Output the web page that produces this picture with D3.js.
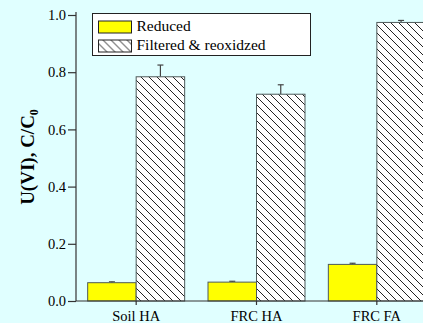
<!DOCTYPE html>
<html>
<head>
<meta charset="utf-8">
<script src="https://cdnjs.cloudflare.com/ajax/libs/d3/7.8.5/d3.min.js"></script>
<style>
  html, body { margin: 0; padding: 0; background: #e0ffff; }
  svg { display: block; }
</style>
</head>
<body>
<div id="chart"></div>
<script>
// data
var categories = ["Soil HA", "FRC HA", "FRC FA"];
var seriesNames = ["Reduced", "Filtered & reoxidzed"];
var reduced = [0.064, 0.066, 0.128];
var reducedErr = [0.003, 0.003, 0.004];
var reoxidized = [0.784, 0.723, 0.974];
var reoxidizedErr = [0.041, 0.033, 0.007];
var yTicks = [0.0, 0.2, 0.4, 0.6, 0.8, 1.0];

var serif = "'Liberation Serif', serif";
var width = 423, height = 323;
var margin = { top: 15, left: 76, bottom: 22 };
var plotBottom = height - margin.bottom;   // y of 0.0

var svg = d3.select("#chart").append("svg")
	.attr("width", width)
	.attr("height", height);

svg.append("rect")
	.attr("width", width).attr("height", height)
	.attr("fill", "#e0ffff");

// hatch pattern ( \\\ )
var defs = svg.append("defs");
var pat = defs.append("pattern")
	.attr("id", "hatch")
	.attr("patternUnits", "userSpaceOnUse")
	.attr("width", 8).attr("height", 8);
pat.append("rect").attr("width", 8).attr("height", 8).attr("fill", "#ffffff");
pat.append("path")
	.attr("d", "M-2,-2 L10,10 M-2,6 L2,10 M6,-2 L10,2")
	.attr("stroke", "#222").attr("stroke-width", 1);

// scales
var x = d3.scaleBand()
	.domain(categories)
	.range([margin.left, 437])
	.paddingInner(0.194)
	.paddingOuter(0.097);

var y = d3.scaleLinear()
	.domain([0, 1])
	.range([plotBottom, margin.top]);

var sub = d3.scaleBand()
	.domain(["reduced", "reox"])
	.range([0, x.bandwidth()]);

var rows = categories.map(function(c, i) {
	return { cat: c, reduced: reduced[i], reducedErr: reducedErr[i], reox: reoxidized[i], reoxErr: reoxidizedErr[i] };
});

var g = svg.append("g");

// error bars (drawn first, bars on top)
function errorBars(key, errKey) {
	var eb = g.selectAll("g.eb-" + key).data(rows).enter().append("g").attr("class", "eb-" + key);
	eb.append("line")
		.attr("x1", function(d) { return x(d.cat) + sub(key) + sub.bandwidth() / 2; })
		.attr("x2", function(d) { return x(d.cat) + sub(key) + sub.bandwidth() / 2; })
		.attr("y1", function(d) { return y(d[key]); })
		.attr("y2", function(d) { return y(d[key] + d[errKey]); })
		.attr("stroke", "#444").attr("stroke-width", 1.2);
	eb.append("line")
		.attr("x1", function(d) { return x(d.cat) + sub(key) + sub.bandwidth() / 2 - 3; })
		.attr("x2", function(d) { return x(d.cat) + sub(key) + sub.bandwidth() / 2 + 3; })
		.attr("y1", function(d) { return y(d[key] + d[errKey]); })
		.attr("y2", function(d) { return y(d[key] + d[errKey]); })
		.attr("stroke", "#444").attr("stroke-width", 1.2);
}
errorBars("reduced", "reducedErr");
errorBars("reox", "reoxErr");

// bars
g.selectAll("rect.reduced").data(rows).enter().append("rect")
	.attr("class", "reduced")
	.attr("x", function(d) { return x(d.cat) + sub("reduced"); })
	.attr("y", function(d) { return y(d.reduced); })
	.attr("width", sub.bandwidth())
	.attr("height", function(d) { return plotBottom - y(d.reduced); })
	.attr("fill", "#ffff00")
	.attr("stroke", "#4d5a5a").attr("stroke-width", 1);

g.selectAll("rect.reox").data(rows).enter().append("rect")
	.attr("class", "reox")
	.attr("x", function(d) { return x(d.cat) + sub("reox"); })
	.attr("y", function(d) { return y(d.reox); })
	.attr("width", sub.bandwidth())
	.attr("height", function(d) { return plotBottom - y(d.reox); })
	.attr("fill", "url(#hatch)")
	.attr("stroke", "#4d5a5a").attr("stroke-width", 1);

// axes
var yAxis = d3.axisLeft(y)
	.tickValues(yTicks)
	.tickFormat(d3.format(".1f"))
	.tickSizeInner(8)
	.tickSizeOuter(0)
	.tickPadding(2);

var ya = svg.append("g")
	.attr("class", "y axis")
	.attr("transform", "translate(" + margin.left + ",0)")
	.call(yAxis);
ya.select(".domain").attr("d", "M0," + (margin.top - 3) + "V" + plotBottom);

var xAxis = d3.axisBottom(x)
	.tickSizeInner(4)
	.tickSizeOuter(0)
	.tickPadding(6);

var xa = svg.append("g")
	.attr("class", "x axis")
	.attr("transform", "translate(0," + plotBottom + ")")
	.call(xAxis);
xa.select(".domain").attr("d", "M" + margin.left + ",0H" + width);

svg.selectAll(".axis path, .axis line").attr("stroke", "#333").attr("stroke-width", 1.2);
svg.selectAll(".axis text")
	.style("font-family", serif)
	.style("font-size", "14.5px")
	.attr("fill", "#000");

// y label
var yl = svg.append("text")
	.attr("transform", "translate(34,157) rotate(-90)")
	.attr("text-anchor", "middle")
	.style("font-family", serif)
	.style("font-size", "19px")
	.style("font-weight", "bold");
yl.append("tspan").text("U(VI), C/C");
yl.append("tspan").style("font-size", "12px").attr("dy", 4).text("0");

// legend
var lg = svg.append("g").attr("transform", "translate(92.5,13.5)");
lg.append("rect")
	.attr("width", 218).attr("height", 42)
	.attr("fill", "#ffffff")
	.attr("stroke", "#222").attr("stroke-width", 1);
var fills = ["#ffff00", "url(#hatch)"];
seriesNames.forEach(function(name, i) {
	lg.append("rect")
		.attr("x", 6).attr("y", 7.5 + i * 19)
		.attr("width", 33).attr("height", 12)
		.attr("fill", fills[i])
		.attr("stroke", "#222").attr("stroke-width", 1);
	lg.append("text")
		.attr("x", 44).attr("y", 17.5 + i * 19)
		.style("font-family", serif)
		.style("font-size", "15.5px")
		.text(name);
});
</script>
</body>
</html>
